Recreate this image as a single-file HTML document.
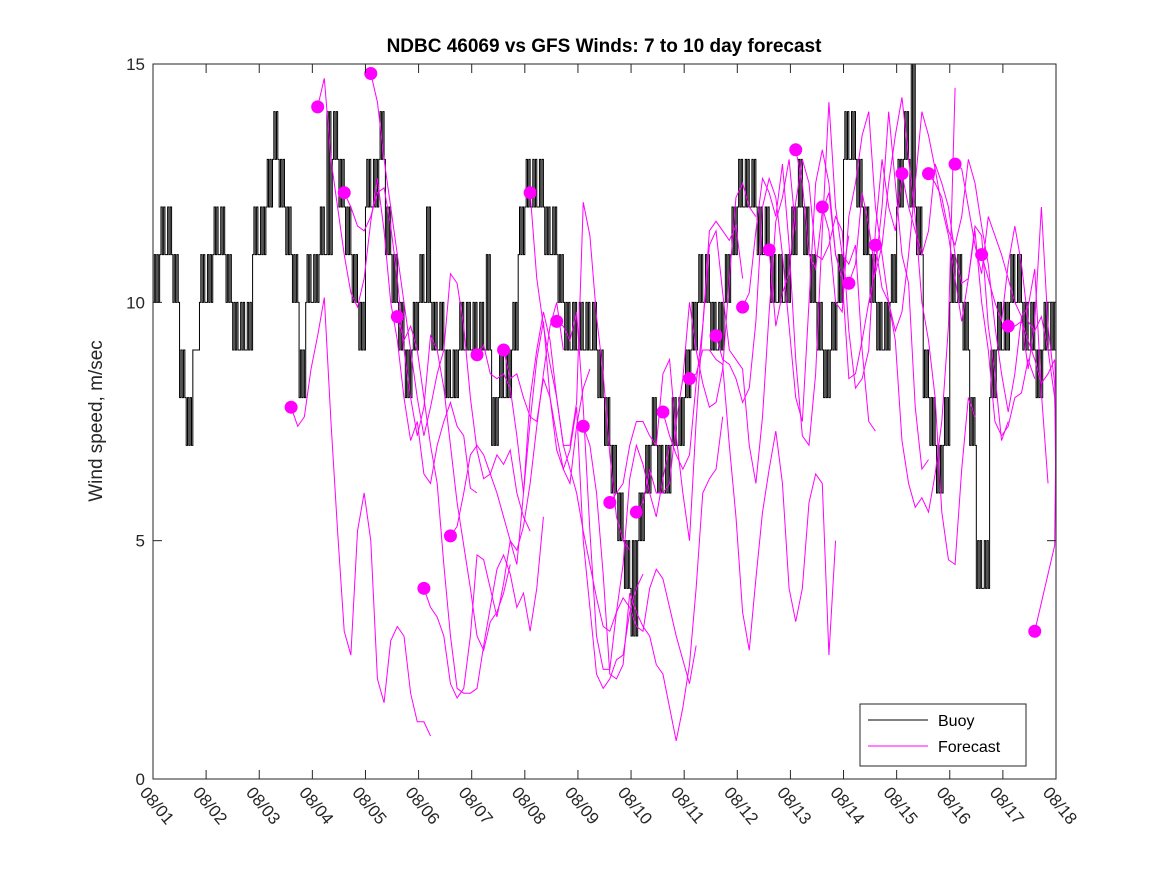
<!DOCTYPE html>
<html><head><meta charset="utf-8"><style>
html,body{margin:0;padding:0;background:#fff;}
svg{display:block;font-family:"Liberation Sans","DejaVu Sans",sans-serif;}
</style></head><body>
<svg id="chart" width="1167" height="875" viewBox="0 0 1167 875">
<rect x="0" y="0" width="1167" height="875" fill="#fff"/>
<rect x="153" y="64" width="903" height="715" fill="#fff" stroke="none"/>
<g id="buoyG"></g>
<g id="fcG"></g>
<rect x="153" y="64" width="903" height="715" fill="none" stroke="#262626" stroke-width="1"/>
<g id="axes"></g>
<text x="604" y="52" text-anchor="middle" font-size="19" font-weight="bold" fill="#000">NDBC 46069 vs GFS Winds: 7 to 10 day forecast</text>
<text transform="translate(102,421) rotate(-90)" text-anchor="middle" font-size="19" fill="#262626">Wind speed, m/sec</text>
<g>
<rect x="860" y="704" width="166" height="62" fill="#fff" stroke="#262626" stroke-width="1"/>
<line x1="868" y1="720" x2="928" y2="720" stroke="#000" stroke-width="1"/>
<text x="938" y="726" font-size="16" fill="#000">Buoy</text>
<line x1="868" y1="746" x2="928" y2="746" stroke="#ff00ff" stroke-width="1"/>
<text x="938" y="752" font-size="16" fill="#000">Forecast</text>
</g>
</svg>
<script>
const xTickLabels = ["08/01","08/02","08/03","08/04","08/05","08/06","08/07","08/08","08/09","08/10","08/11","08/12","08/13","08/14","08/15","08/16","08/17","08/18"];
const yTicks = [0,5,10,15];
// buoy: low/high observed values per 3-hour interval (8 per day)
const buoyLow = [
10,11,11,10,8,7,9,10,
10,11,11,10,9,9,9,11,
11,12,13,12,11,10,8,10,
10,11,11,13,12,11,10,9,
12,12,13,11,10,9,8,9,
10,10,9,9,8,8,9,9,
9,9,9,7,8,8,9,11,
12,12,12,11,11,10,9,9,
9,9,9,8,7,6,5,4,
3,5,6,7,6,6,7,7,
8,9,10,10,9,9,10,11,
12,12,12,11,11,10,10,10,
11,12,11,10,9,8,9,10,
13,13,12,11,10,9,9,10,
12,13,12,11,8,7,6,7,
10,10,9,7,4,4,8,9,
9,10,10,9,9,8,9,9];
const buoyHigh = [
11,12,12,11,9,8,9,11,
11,12,12,11,10,10,10,12,
12,13,14,13,12,11,9,11,
11,12,14,14,13,12,11,10,
13,13,14,12,11,10,9,10,
11,12,10,10,9,9,10,10,
10,10,11,8,9,9,10,12,
13,13,13,12,12,11,10,10,
10,10,10,9,8,7,6,5,
5,6,7,8,7,7,8,8,
9,10,11,11,10,10,11,12,
13,13,13,12,12,11,11,11,
12,13,12,11,10,9,10,11,
14,14,13,12,11,10,10,11,
13,14,15,12,9,8,7,8,
11,11,10,8,5,5,9,10,
10,11,11,10,10,9,10,10];
const fcStarts = [2.6,3.1,3.6,4.1,4.6,5.1,5.6,6.1,6.6,7.1,7.6,8.1,8.6,9.1,9.6,10.1,10.6,11.1,11.6,12.1,12.6,13.1,13.6,14.1,14.6,15.1,15.6,16.1,16.6];
const fcValues = [
[7.8,7.4,7.6,8.6,9.3,10.1,7.5,5.2,3.1,2.6,5.2,6.0,5.0,2.1,1.6,2.9,3.2,3.0,1.8,1.2,1.2,0.9],
[14.1,14.7,13.0,12.0,11.0,10.2,9.9,10.5,11.7,12.6,11.5,10.0,9.2,8.0,7.1,7.5,6.4,6.2,7.0,7.5,7.9,7.4,7.2,6.1,6.0],
[12.3,12.0,11.6,11.5,11.8,12.3,12.4,11.6,10.5,9.0,8.0,7.2,7.8,9.3,9.0,8.2,7.0,5.8,4.9,4.0,3.0,2.7,3.3,3.5,3.9,4.5],
[14.8,14.2,13.0,12.0,11.0,10.0,9.0,8.0,7.2,7.8,8.5,9.0,10.6,10.4,9.5,8.0,6.9,6.3,6.4,6.8,6.6,6.9,6.0,5.5,5.2],
[9.7,9.2,9.5,9.0,8.0,7.0,6.2,4.5,3.0,1.9,1.8,1.8,1.9,2.8,3.6,4.4,4.7,4.3,3.6,3.9,3.1,4.0,5.5],
[4.0,3.6,3.4,3.0,2.0,1.7,1.9,3.0,4.7,4.6,4.0,3.4,4.1,5.0,4.8,5.3,6.2,7.4,8.5,9.5,10.0,9.0],
[5.1,5.3,6.0,6.8,7.0,6.8,6.4,6.0,5.5,5.0,4.5,6.0,7.5,8.8,9.6,8.0,7.2,6.5,6.2,7.4,8.2,8.6],
[8.9,9.1,8.5,8.4,8.5,8.2,7.2,6.0,8.0,9.0,9.8,9.2,8.0,7.0,7.0,7.9,12.1,11.4,9.7,8.5,6.8,5.5,5.0,4.8],
[9.0,8.4,8.5,8.0,7.6,7.5,8.4,8.0,6.9,6.5,6.9,7.8,5.0,3.6,2.2,1.9,2.1,2.5,2.6,3.5,4.0,4.3],
[12.3,10.5,9.5,8.7,8.0,7.0,6.5,6.0,5.2,4.5,3.8,3.2,3.1,3.5,4.5,6.3,7.0,6.6,6.0,5.5,6.3,7.0],
[9.6,9.5,9.2,9.8,7.8,5.2,3.0,2.3,2.3,3.5,3.8,3.6,3.2,3.1,4.0,4.4,4.2,3.6,3.0,2.5,2.0,2.8],
[7.4,7.0,6.0,4.3,2.2,2.1,2.4,3.9,3.5,3.2,3.0,2.4,2.2,1.5,0.8,1.5,2.4,4.0,6.0,6.3,6.5,7.6],
[5.8,6.0,6.2,7.0,7.5,7.5,7.2,7.0,8.5,8.8,7.2,6.0,5.0,7.5,9.5,11.5,11.7,11.5,11.3,11.6,10.5],
[5.6,5.8,6.5,6.0,6.0,6.2,7.5,8.4,10.0,9.0,8.3,7.8,7.9,8.6,10.5,12.2,12.5,12.0,11.8],
[7.7,7.2,6.8,6.5,6.8,8.3,9.5,11.2,11.5,10.2,9.0,8.8,8.6,7.0,6.2,7.6,9.8,11.7,12.2,13.0,11.5],
[8.4,8.5,9.0,9.0,8.8,8.7,7.0,5.5,3.5,2.7,4.2,5.6,6.5,7.3,6.2,4.0,3.3,4.0,5.8,6.4,6.2,2.6,5.0],
[9.3,8.8,8.7,8.4,7.9,8.2,9.6,12.0,12.6,12.2,11.0,9.5,8.0,7.5,10.0,12.5,13.2,12.5,11.0,10.5,11.4],
[9.9,10.2,11.5,12.6,12.3,11.8,12.9,11.2,8.8,7.2,7.0,8.5,11.5,14.2,12.0,11.0,10.8,11.2,9.0,7.5,7.3],
[11.1,9.5,10.2,10.6,12.1,13.0,12.5,11.0,10.9,11.2,11.8,11.5,9.4,8.2,8.4,9.0,11.5,13.0,12.0,11.5,12.6],
[13.2,12.5,11.0,10.7,11.9,12.3,11.0,10.5,8.4,8.5,9.2,10.0,10.7,12.0,14.0,12.5,11.0,10.4,7.8,6.5,6.7],
[12.0,11.5,10.0,9.8,11.8,12.5,13.5,14.0,12.0,11.0,10.0,9.2,7.1,6.2,5.7,5.9,5.6,6.4,7.5,9.5,14.5],
[10.4,10.8,12.3,11.6,10.6,11.2,12.5,13.5,14.3,13.0,11.8,10.0,9.2,8.0,5.6,4.6,4.5,6.5,8.0,7.6],
[11.2,10.3,10.0,9.4,9.8,11.0,12.5,14.0,13.5,12.8,12.0,11.4,10.5,9.6,10.5,11.6,11.4,9.5,8.5,7.1,7.5],
[12.7,12.0,11.5,11.0,11.5,12.9,12.5,12.0,11.0,10.4,10.5,11.5,10.0,9.0,7.5,7.2,7.4,8.0,8.1,8.8,8.4],
[12.7,12.5,12.2,11.5,11.2,11.8,13.0,12.5,11.6,10.8,9.5,8.5,7.7,8.5,9.7,9.9,10.7,8.1,6.2],
[12.9,12.8,12.0,11.2,10.6,11.8,11.4,11.0,10.5,10.0,9.7,8.6,9.6,12.0,9.5,8.3,5.7,6.2,8.4],
[11.0,10.5,10.0,9.6,10.8,11.6,10.8,9.6,9.4,9.7,9.0,8.0,7.0,6.2,6.1,8.5,10.5,11.0],
[9.5,9.5,9.6,9.2,8.8,8.3,8.5,8.8,8.0,7.5,7.0,7.4,8.0,8.5],
[3.1,3.7,4.3,4.9,7.5,9.0]
];
const NS="http://www.w3.org/2000/svg";
const X0=153,X1=1056,Y0=779,Y1=64,DAYS=17,VMAX=15;
const STEP=0.125, BSTEP=0.125, FLICK=5;
function xs(d){return X0+(X1-X0)*d/DAYS;}
function ys(v){return Y0-(Y0-Y1)*v/VMAX;}
function mk(tag,attrs,parent){const e=document.createElementNS(NS,tag);for(const k in attrs)e.setAttribute(k,attrs[k]);parent.appendChild(e);return e;}
const axes=document.getElementById('axes');
xTickLabels.forEach((lab,i)=>{
  const x=xs(i);
  const t1=mk('line',{x1:x,y1:Y0,x2:x,y2:Y0-9,stroke:'#262626'},axes);
  
  
  const t2=mk('line',{x1:x,y1:Y1,x2:x,y2:Y1+9,stroke:'#262626'},axes);
  
  
  const tx=mk('text',{x:0,y:0,'font-size':17,fill:'#262626',transform:`translate(${x-14},${Y0+14}) rotate(50)`},axes);
  tx.textContent=lab;
  
  
});
yTicks.forEach(v=>{
  const y=ys(v);
  const a=mk('line',{x1:X0,y1:y,x2:X0+9,y2:y,stroke:'#262626'},axes);
  
  
  const b=mk('line',{x1:X1,y1:y,x2:X1-9,y2:y,stroke:'#262626'},axes);
  
  
  const t=mk('text',{x:X0-8,y:y+6,'text-anchor':'end','font-size':17,fill:'#262626'},axes);
  t.textContent=v;
  
  
});
// buoy step line: each 3h interval alternates between its low and high reading
let d='';
buoyLow.forEach((lo,i)=>{
  const hi=buoyHigh[i];
  const xa=xs(i*BSTEP), xb=xs((i+1)*BSTEP);
  if(i===0) d+=`M${xa},${ys(lo)}`; else d+=`V${ys(lo)}`;
  if(hi>lo){
    const w=(xb-xa)/FLICK;
    for(let k=0;k<FLICK;k++){
      const v=(k%2===0)?lo:hi;
      d+=`V${ys(v)}H${xa+(k+1)*w}`;
    }
  } else {
    d+=`H${xb}`;
  }
});
const bp=mk('path',{d:d,fill:'none',stroke:'#000','stroke-width':1},document.getElementById('buoyG'));


const fg=document.getElementById('fcG');
fcValues.forEach((arr,k)=>{
  const s=fcStarts[k];
  const pts=arr.map((v,j)=>`${xs(Math.min(DAYS,s+j*STEP))},${ys(v)}`).join(' ');
  const pl=mk('polyline',{points:pts,fill:'none',stroke:'#ff00ff','stroke-width':1},fg);
  
  
});
fcValues.forEach((arr,k)=>{
  const c=mk('circle',{cx:xs(fcStarts[k]),cy:ys(arr[0]),r:6.5,fill:'#ff00ff'},fg);
  
  
});
</script>
</body></html>
